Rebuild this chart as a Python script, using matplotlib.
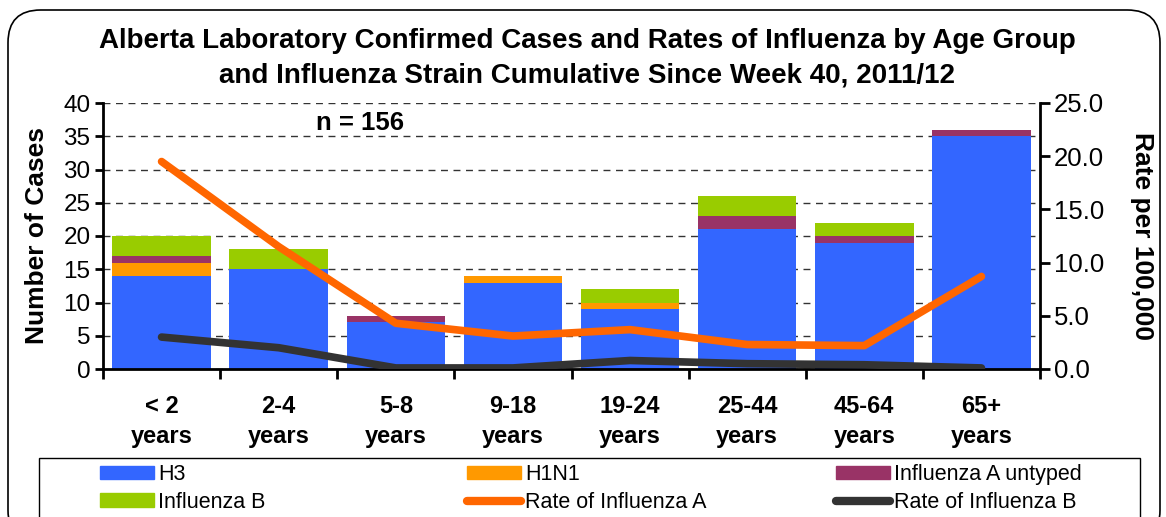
import numpy as np
import matplotlib; matplotlib.use("Agg"); import matplotlib.pyplot as plt
from matplotlib.patches import FancyBboxPatch, Rectangle, Patch
from matplotlib.lines import Line2D

plt.rcParams["font.family"] = ["Liberation Sans", "DejaVu Sans"]

# data
ages = ["< 2\nyears", "2-4\nyears", "5-8\nyears", "9-18\nyears", "19-24\nyears",
        "25-44\nyears", "45-64\nyears", "65+\nyears"]
h3 = [14, 15, 7, 13, 9, 21, 19, 35]
h1n1 = [2, 0, 0, 1, 1, 0, 0, 0]
a_untyped = [1, 0, 1, 0, 0, 2, 1, 1]
flu_b = [3, 3, 0, 0, 2, 3, 2, 0]
rate_a = [19.5, 11.5, 4.3, 3.1, 3.7, 2.3, 2.2, 8.7]
rate_b = [3.0, 2.0, 0.1, 0.1, 0.8, 0.5, 0.4, 0.1]

C_H3 = "#3366FF"; C_H1 = "#FF9900"; C_UN = "#993366"; C_B = "#99CC00"
C_RA = "#FF6600"; C_RB = "#333333"

W, H = 1166, 517
fig = plt.figure(figsize=(W/100, H/100), dpi=100)
ax = fig.add_axes([103/W, 1-369/H, (1040-103)/W, (369-103)/H])
x = np.arange(len(ages))
bw = 0.84
b0 = np.zeros(len(ages))
for vals, col in [(h3, C_H3), (h1n1, C_H1), (a_untyped, C_UN), (flu_b, C_B)]:
    ax.bar(x, vals, bw, bottom=b0, color=col, zorder=2, linewidth=0)
    b0 = b0 + np.array(vals)

ax.set_xlim(-0.5, 7.5); ax.set_ylim(0, 40)
ax.set_yticks(range(0, 41, 5))
ax.yaxis.grid(True, ls=(0, (5, 4)), color="#333333", lw=1.0, zorder=0)
ax.set_axisbelow(True)
ax.set_xticks(np.arange(-0.5, 8, 1))
ax.set_xticklabels([])
ax.set_xticks(x, minor=True)
ax.set_xticklabels(ages, minor=True, fontsize=17, fontweight="bold", linespacing=1.35)
ax.tick_params(axis="x", which="minor", length=0, pad=19)
ax.tick_params(axis="x", which="major", length=7, width=2)
ax.tick_params(axis="y", length=6, width=2, labelsize=17.5, pad=3)
for s in ["top", "right"]:
    ax.spines[s].set_visible(False)
for s in ["left", "bottom"]:
    ax.spines[s].set_linewidth(2)
ax.set_ylabel("Number of Cases", fontsize=19, fontweight="bold", labelpad=10)

ax2 = ax.twinx()
ax2.plot(x, rate_a, color=C_RA, lw=5.5, solid_capstyle="round", solid_joinstyle="round", zorder=3)
ax2.plot(x, rate_b, color=C_RB, lw=5.5, solid_capstyle="round", solid_joinstyle="round", zorder=3)
ax2.set_ylim(0, 25)
ax2.set_yticks(np.arange(0, 26, 5))
ax2.set_yticklabels([f"{v:.1f}" for v in np.arange(0, 26, 5)])
ax2.tick_params(axis="y", length=7, width=2, labelsize=18.5, pad=3)
for s in ["top", "left", "bottom"]:
    ax2.spines[s].set_visible(False)
ax2.spines["right"].set_linewidth(2)
ax2.set_ylabel("Rate per 100,000", fontsize=19, fontweight="bold", rotation=-90, labelpad=36)

ax.text(1.69, 37.0, "n = 156", ha="center", va="center", fontsize=18.5, fontweight="bold", zorder=5)

fig.text(587/W, 1-58/H, "Alberta Laboratory Confirmed Cases and Rates of Influenza by Age Group\n"
         "and Influenza Strain Cumulative Since Week 40, 2011/12",
         ha="center", va="center", fontsize=20, fontweight="bold", linespacing=1.4)

# outer rounded border and legend box
fig.add_artist(FancyBboxPatch((8/W, -0.05), (1160-8)/W, (1.05-10/H), boxstyle="round,pad=0,rounding_size=0.028",
                              transform=fig.transFigure, fill=False, ec="black", lw=1.2,
                              mutation_aspect=W/H))
fig.add_artist(Rectangle((39/W, -0.02), (1140-39)/W, (0.02+1-458/H), transform=fig.transFigure,
                         fill=False, ec="black", lw=1.0))

legfont = dict(size=15.5)
cols = [
    ([Patch(color=C_H3), Patch(color=C_B)], ["H3", "Influenza B"], 100),
    ([Patch(color=C_H1), Line2D([], [], color=C_RA, lw=6, solid_capstyle="round")],
     ["H1N1", "Rate of Influenza A"], 467),
    ([Patch(color=C_UN), Line2D([], [], color=C_RB, lw=6, solid_capstyle="round")],
     ["Influenza A untyped", "Rate of Influenza B"], 836),
]
for hs, ls, px in cols:
    lg = fig.legend(hs, ls, loc="upper left", bbox_to_anchor=(px/W, 1-464/H), frameon=False,
                    prop=legfont, handlelength=2.5, handleheight=0.6, handletextpad=0.2,
                    labelspacing=0.32, borderpad=0, borderaxespad=0)

fig.savefig("out.png", dpi=100)
